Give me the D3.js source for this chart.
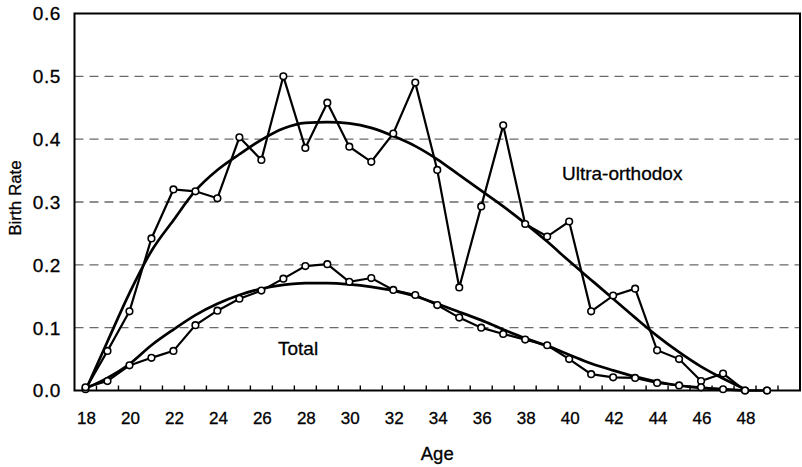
<!DOCTYPE html>
<html>
<head>
<meta charset="utf-8">
<script src="https://cdn.jsdelivr.net/npm/d3@7"></script>
<style>
  html, body { margin: 0; padding: 0; background: #fff; }
  svg { display: block; }
  text { font-family: Arial, "Liberation Sans", Helvetica, sans-serif; fill: #000; stroke: #000; stroke-width: 0.3px; }
</style>
</head>
<body>
<svg id="chart" width="802" height="467"></svg>
<script>
// ---- data ----
const categories = d3.range(18, 51);               // 18..50 (50 is an empty slot)
const dataAges = d3.range(18, 50);                 // 18..49
const fitAges = d3.range(18, 49);                  // 18..48
const xTickLabels = d3.range(18, 49, 2);           // 18,20,...,48
const yTicks = [0.0, 0.1, 0.2, 0.3, 0.4, 0.5, 0.6];

const ultraOrthodox = [0.002, 0.063, 0.126, 0.242, 0.320, 0.317, 0.306, 0.403, 0.367, 0.500,
  0.386, 0.458, 0.388, 0.364, 0.409, 0.490, 0.351, 0.164, 0.293, 0.422,
  0.265, 0.245, 0.269, 0.126, 0.151, 0.162, 0.064, 0.050, 0.015, 0.027, 0.000, 0.000];

const total = [0.005, 0.015, 0.040, 0.052, 0.063, 0.104, 0.127, 0.146, 0.159, 0.178,
  0.198, 0.201, 0.173, 0.179, 0.160, 0.152, 0.136, 0.116, 0.100, 0.090,
  0.081, 0.072, 0.050, 0.026, 0.021, 0.020, 0.012, 0.008, 0.005, 0.002, 0.000, 0.000];

const ultraFit = [0.000, 0.078, 0.155, 0.222, 0.271, 0.318, 0.351, 0.376, 0.399, 0.417,
  0.426, 0.427, 0.425, 0.418, 0.405, 0.389, 0.368, 0.343, 0.318, 0.293,
  0.266, 0.237, 0.206, 0.176, 0.146, 0.116, 0.087, 0.061, 0.038, 0.019, 0.002];

const totalFit = [0.003, 0.020, 0.042, 0.072, 0.097, 0.120, 0.138, 0.152, 0.162, 0.168,
  0.171, 0.171, 0.169, 0.165, 0.159, 0.150, 0.138, 0.125, 0.112, 0.097,
  0.083, 0.071, 0.057, 0.043, 0.032, 0.022, 0.014, 0.008, 0.004, 0.002, 0.000];

// ---- layout ----
const svg = d3.select("#chart");
const plot = { left: 74.5, right: 800, top: 13.5, bottom: 390.5 };

const x = d3.scaleBand().domain(categories).range([plot.left, plot.right]).paddingInner(0).paddingOuter(0);
const cx = a => x(a) + x.bandwidth() / 2;
const y = d3.scaleLinear().domain([0, 0.6]).range([plot.bottom, plot.top]);

// gridlines
svg.append("g").selectAll("line")
  .data(yTicks.filter(v => v > 0 && v < 0.6))
  .join("line")
  .attr("x1", plot.left).attr("x2", plot.right)
  .attr("y1", d => y(d)).attr("y2", d => y(d))
  .attr("stroke", "#6a6a6a").attr("stroke-width", 1.3)
  .attr("stroke-dasharray", "9,6");

// plot border
svg.append("rect")
  .attr("x", plot.left).attr("y", plot.top)
  .attr("width", plot.right - plot.left).attr("height", plot.bottom - plot.top)
  .attr("fill", "none").attr("stroke", "#000").attr("stroke-width", 2);

// x ticks (between categories, pointing inward)
svg.append("g").selectAll("line")
  .data(categories.slice(1))
  .join("line")
  .attr("x1", d => x(d)).attr("x2", d => x(d))
  .attr("y1", plot.bottom).attr("y2", plot.bottom - 5)
  .attr("stroke", "#000").attr("stroke-width", 1.4);

// x tick labels
svg.append("g").selectAll("text")
  .data(xTickLabels)
  .join("text")
  .attr("x", d => cx(d) + 1).attr("y", 424)
  .attr("text-anchor", "middle")
  .attr("font-size", 17)
  .text(d => d);

// y tick labels
svg.append("g").selectAll("text")
  .data(yTicks)
  .join("text")
  .attr("x", 61).attr("y", d => y(d))
  .attr("dy", "0.36em")
  .attr("text-anchor", "end")
  .attr("font-size", 19)
  .attr("letter-spacing", "0.6px")
  .text(d => d.toFixed(1));

// axis titles
svg.append("text")
  .attr("x", plot.left + (plot.right - plot.left) / 2).attr("y", 460)
  .attr("text-anchor", "middle").attr("font-size", 18.5)
  .text("Age");

svg.append("text")
  .attr("transform", "translate(21,198) rotate(-90)")
  .attr("text-anchor", "middle").attr("font-size", 17)
  .text("Birth Rate");

// fitted curves
const fitLine = d3.line().x(d => cx(d[0])).y(d => y(d[1])).curve(d3.curveMonotoneX);
[ultraFit, totalFit].forEach(arr => {
  svg.append("path")
    .datum(fitAges.map((a, i) => [a, arr[i]]))
    .attr("d", fitLine)
    .attr("fill", "none").attr("stroke", "#000").attr("stroke-width", 2.7);
});

// data series
const dataLine = d3.line().x(d => cx(d[0])).y(d => y(d[1]));
[ultraOrthodox, total].forEach(arr => {
  const pts = dataAges.map((a, i) => [a, arr[i]]);
  svg.append("path")
    .datum(pts)
    .attr("d", dataLine)
    .attr("fill", "none").attr("stroke", "#000").attr("stroke-width", 2.2);
  svg.append("g").selectAll("circle")
    .data(pts)
    .join("circle")
    .attr("cx", d => cx(d[0])).attr("cy", d => y(d[1]))
    .attr("r", 3.3)
    .attr("fill", "#fff").attr("stroke", "#000").attr("stroke-width", 1.6);
});

// series labels
svg.append("text")
  .attr("x", 562).attr("y", 180)
  .attr("font-size", 19)
  .text("Ultra-orthodox");

svg.append("text")
  .attr("x", 278).attr("y", 355)
  .attr("font-size", 19)
  .text("Total");
</script>
</body>
</html>
